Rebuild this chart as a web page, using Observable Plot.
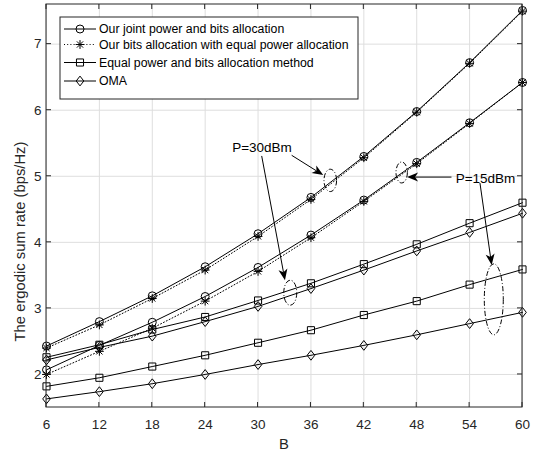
<!DOCTYPE html>
<html><head><meta charset="utf-8">
<script src="https://cdn.jsdelivr.net/npm/d3@7"></script>
<script src="https://cdn.jsdelivr.net/npm/@observablehq/plot@0.6"></script>
<style>body{margin:0;background:#fff}#chart{width:539px;height:456px}</style>
</head><body><div id="chart"></div>
<script>
// ---- data ----
const B = [6, 12, 18, 24, 30, 36, 42, 48, 54, 60];
const joint30 = [2.43, 2.80, 3.19, 3.63, 4.13, 4.68, 5.30, 5.98, 6.72, 7.51];
const eqPower30 = [2.40, 2.75, 3.15, 3.58, 4.09, 4.65, 5.28, 5.97, 6.71, 7.50];
const joint15 = [2.07, 2.44, 2.79, 3.18, 3.62, 4.11, 4.64, 5.21, 5.81, 6.42];
const eqPower15 = [2.00, 2.35, 2.70, 3.11, 3.56, 4.07, 4.62, 5.19, 5.80, 6.42];
const equal30 = [2.26, 2.45, 2.68, 2.87, 3.12, 3.38, 3.67, 3.97, 4.29, 4.60];
const oma30 = [2.22, 2.41, 2.58, 2.80, 3.03, 3.30, 3.58, 3.87, 4.15, 4.44];
const equal15 = [1.82, 1.95, 2.12, 2.29, 2.48, 2.67, 2.90, 3.11, 3.36, 3.59];
const oma15 = [1.63, 1.74, 1.86, 2.00, 2.15, 2.29, 2.44, 2.60, 2.77, 2.94];
const seriesNames = [
  "Our joint power and bits allocation",
  "Our bits allocation with equal power allocation",
  "Equal power and bits allocation method",
  "OMA"
];
const xTicks = [6, 12, 18, 24, 30, 36, 42, 48, 54, 60];
const yTicks = [2, 3, 4, 5, 6, 7];
const xLabel = "B";
const yLabel = "The ergodic sum rate (bps/Hz)";
const annotLabels = [
  {label: "P=30dBm", B: 30.45, v: 5.44},
  {label: "P=15dBm", B: 55.8, v: 4.96}
];
const annotArrows = [
  {B1: 33.87, v1: 5.31, B2: 37.45, v2: 5.01},
  {B1: 30.47, v1: 5.30, B2: 33.11, v2: 3.42},
  {B1: 52.0, v1: 4.98, B2: 46.96, v2: 4.98},
  {B1: 55.23, v1: 4.89, B2: 56.56, v2: 3.65}
];
const annotEllipses = [
  {B: 38.25, v: 4.93},
  {B: 33.71, v: 3.23},
  {B: 46.35, v: 5.05},
  {B: 56.8, v: 3.13}
];

// ---- styles ----
const ellipseSize = [[6.3, 11.2], [6.5, 12.5], [5.7, 10.5], [9.5, 35.5]];
const INK = "#000";
const AX = "#262626";
const FONT = "'Liberation Sans', Arial, Helvetica, sans-serif";

const toRows = (vals) => B.map((b, i) => ({B: b, v: vals[i]}));

const rOf = (size) => Math.sqrt(size / Math.PI);
const symCircle = {draw(c, s) { const r = rOf(s); c.moveTo(r, 0); c.arc(0, 0, r, 0, 2 * Math.PI); c.closePath(); }};
const symSquare = {draw(c, s) { const h = Math.sqrt(s) / 2; c.rect(-h, -h, 2 * h, 2 * h); }};
const symDiamond = {draw(c, s) { const r = rOf(s); c.moveTo(0, -r * 1.22); c.lineTo(r * 0.95, 0); c.lineTo(0, r * 1.22); c.lineTo(-r * 0.95, 0); c.closePath(); }};
const symStar = {draw(c, s) { const r = rOf(s) * 1.1; const d = r * Math.SQRT1_2;
  c.moveTo(-r, 0); c.lineTo(r, 0); c.moveTo(0, -r); c.lineTo(0, r);
  c.moveTo(-d, -d); c.lineTo(d, d); c.moveTo(-d, d); c.lineTo(d, -d); }};

const series = [
  {vals: joint30, sym: symCircle, dash: null},
  {vals: eqPower30, sym: symStar, dash: "1,2.2"},
  {vals: joint15, sym: symCircle, dash: null},
  {vals: eqPower15, sym: symStar, dash: "1,2.2"},
  {vals: equal30, sym: symSquare, dash: null},
  {vals: oma30, sym: symDiamond, dash: null},
  {vals: equal15, sym: symSquare, dash: null},
  {vals: oma15, sym: symDiamond, dash: null}
];
const legendSyms = [[symCircle, null], [symStar, "1,2.2"], [symSquare, null], [symDiamond, null]];

function decor(index, scales, values, dims) {
  const {x, y} = scales;
  const L = dims.marginLeft, T = dims.marginTop;
  const R = dims.width - dims.marginRight, Bt = dims.height - dims.marginBottom;
  const g = d3.create("svg:g");
  const tl = 5;
  // inward ticks on all four sides
  for (const t of xTicks) {
    const px = x(t);
    g.append("line").attr("x1", px).attr("x2", px).attr("y1", Bt).attr("y2", Bt - tl).attr("stroke", AX);
    g.append("line").attr("x1", px).attr("x2", px).attr("y1", T).attr("y2", T + tl).attr("stroke", AX);
  }
  for (const t of yTicks) {
    const py = y(t);
    g.append("line").attr("x1", L).attr("x2", L + tl).attr("y1", py).attr("y2", py).attr("stroke", AX);
    g.append("line").attr("x1", R).attr("x2", R - tl).attr("y1", py).attr("y2", py).attr("stroke", AX);
  }
  g.append("rect").attr("x", L).attr("y", T).attr("width", R - L).attr("height", Bt - T)
    .attr("fill", "none").attr("stroke", AX).attr("stroke-width", 1);
  // axis titles
  g.append("text").attr("transform", `translate(20,${(T + Bt) / 2 + 36}) rotate(-90)`)
    .attr("text-anchor", "middle").attr("dy", "0.35em")
    .attr("font-size", 14.8).attr("font-family", FONT).attr("fill", AX).text(yLabel);
  g.append("text").attr("x", (L + R) / 2).attr("y", Bt + 37).attr("dy", "0.35em")
    .attr("text-anchor", "middle")
    .attr("font-size", 14.8).attr("font-family", FONT).attr("fill", AX).text(xLabel);
  // ellipses
  annotEllipses.forEach((e, i) => {
    g.append("ellipse").attr("cx", x(e.B)).attr("cy", y(e.v))
      .attr("rx", ellipseSize[i][0]).attr("ry", ellipseSize[i][1])
      .attr("fill", "none").attr("stroke", INK).attr("stroke-width", 1)
      .attr("stroke-dasharray", "5,2,1,2");
  });
  // arrows
  for (const a of annotArrows) {
    const x1 = x(a.B1), y1 = y(a.v1), x2 = x(a.B2), y2 = y(a.v2);
    const len = Math.hypot(x2 - x1, y2 - y1), ux = (x2 - x1) / len, uy = (y2 - y1) / len;
    const nx = -uy, ny = ux, HL = 11, HW = 4.5, BK = 3;
    g.append("line").attr("x1", x1).attr("y1", y1)
      .attr("x2", x2 - (HL - BK) * ux).attr("y2", y2 - (HL - BK) * uy)
      .attr("stroke", INK).attr("stroke-width", 1);
    const p = [[x2, y2], [x2 - HL * ux + HW * nx, y2 - HL * uy + HW * ny],
      [x2 - (HL - BK) * ux, y2 - (HL - BK) * uy], [x2 - HL * ux - HW * nx, y2 - HL * uy - HW * ny]];
    g.append("path").attr("d", "M" + p.map(q => q.join(",")).join("L") + "Z").attr("fill", INK);
  }
  // legend
  const lx = 60, ly = 17, lw = 298, lh = 82;
  g.append("rect").attr("x", lx).attr("y", ly).attr("width", lw).attr("height", lh)
    .attr("fill", "#fff").attr("stroke", AX).attr("stroke-width", 1);
  const rowsY = [29, 44.5, 62.5, 81];
  seriesNames.forEach((name, i) => {
    const ry = rowsY[i];
    const [sym, dash] = legendSyms[i];
    const ln = g.append("line").attr("x1", 64).attr("x2", 96).attr("y1", ry).attr("y2", ry)
      .attr("stroke", INK).attr("stroke-width", 1);
    if (dash) ln.attr("stroke-dasharray", dash);
    g.append("path").attr("d", d3.symbol(sym, 16 * Math.PI)()).attr("transform", `translate(80,${ry})`)
      .attr("fill", "none").attr("stroke", INK).attr("stroke-width", 1);
    g.append("text").attr("x", 99).attr("y", ry).attr("dy", "0.35em").attr("text-anchor", "start")
      .attr("font-size", 12.3).attr("font-family", FONT).attr("fill", INK).text(name);
  });
  return g.node();
}

const marks = [
  Plot.gridX(xTicks, {stroke: "#dedede", strokeOpacity: 1}),
  Plot.gridY(yTicks, {stroke: "#dedede", strokeOpacity: 1}),
  Plot.axisX(xTicks, {tickSize: 0, tickPadding: 12, fontSize: 13.5, fill: AX, label: null, tickFormat: d => String(d)}),
  Plot.axisY(yTicks, {tickSize: 0, tickPadding: 5, fontSize: 13.5, fill: AX, label: null, tickFormat: d => String(d)}),
];
for (const s of series) {
  marks.push(Plot.line(toRows(s.vals), {x: "B", y: "v", stroke: INK, strokeWidth: 1, strokeDasharray: s.dash ?? undefined}));
}
for (const s of series) {
  marks.push(Plot.dot(toRows(s.vals), {x: "B", y: "v", symbol: s.sym, r: 4, stroke: INK, fill: "none", strokeWidth: 1}));
}
marks.push(Plot.text(annotLabels, {x: "B", y: "v", text: "label", fontSize: 13.5, fill: INK}));
marks.push(decor);

const chart = Plot.plot({
  width: 539, height: 456,
  marginLeft: 46, marginRight: 17, marginTop: 4, marginBottom: 49,
  x: {domain: [6, 60]},
  y: {domain: [1.5, 7.6]},
  style: {fontFamily: FONT, background: "#fff", color: AX},
  marks
});
document.getElementById("chart").appendChild(chart);
</script>
</body></html>
